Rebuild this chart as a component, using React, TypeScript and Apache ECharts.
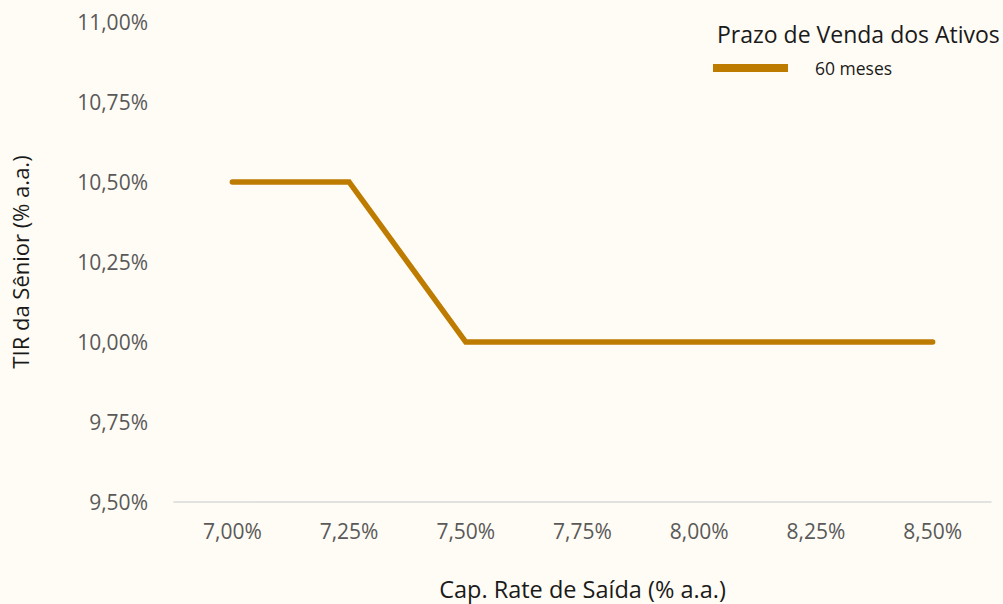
import React, { useEffect, useRef } from "react";
import * as echarts from "echarts";

const categories = ["7,00%", "7,25%", "7,50%", "7,75%", "8,00%", "8,25%", "8,50%"];
const values = [10.5, 10.5, 10.0, 10.0, 10.0, 10.0, 10.0];
const seriesName = "60 meses";
const legendTitle = "Prazo de Venda dos Ativos";
const xName = "Cap. Rate de Saída (% a.a.)";
const yName = "TIR da Sênior (% a.a.)";

const FONT = "'Open Sans', 'Noto Sans', sans-serif";

export default function App() {
  const ref = useRef<HTMLDivElement>(null);
  useEffect(() => {
    if (!ref.current) return;
    const chart = echarts.init(ref.current, undefined, { renderer: "svg" });
    chart.setOption({
      animation: false,
      backgroundColor: "#FFFCF5",
      textStyle: { fontFamily: FONT },
      grid: { left: 174, right: 12, top: 22, bottom: 102, outerBoundsMode: "none", containLabel: false },
      legend: {
        data: [seriesName],
        left: 708,
        top: 54,
        icon: "rect",
        itemWidth: 75,
        itemHeight: 8,
        textStyle: { fontFamily: FONT, fontSize: 17.5, color: "#1a1a1a", padding: [0, 0, 0, 22] },
      },
      graphic: [
        {
          type: "text",
          left: 717,
          top: 22,
          style: { text: legendTitle, font: `23px ${FONT}`, fill: "#1a1a1a" },
        },
      ],
      xAxis: {
        type: "category",
        data: categories,
        boundaryGap: true,
        name: xName,
        nameLocation: "middle",
        nameGap: 75,
        nameTextStyle: { fontFamily: FONT, fontSize: 23.5, color: "#1a1a1a" },
        axisLine: { show: true, lineStyle: { color: "#d9d9d9", width: 1.5 } },
        axisTick: { show: false },
        axisLabel: { fontFamily: FONT, fontSize: 21, color: "#595959", margin: 18 },
        splitLine: { show: false },
      },
      yAxis: {
        type: "value",
        min: 9.5,
        max: 11,
        interval: 0.25,
        name: yName,
        nameLocation: "middle",
        nameGap: 143,
        nameTextStyle: { fontFamily: FONT, fontSize: 22, color: "#1a1a1a" },
        axisLine: { show: false },
        axisTick: { show: false },
        splitLine: { show: false },
        axisLabel: {
          fontFamily: FONT,
          fontSize: 21,
          color: "#595959",
          margin: 26,
          formatter: (v: number) => v.toFixed(2).replace(".", ",") + "%",
        },
      },
      series: [
        {
          name: seriesName,
          type: "line",
          data: values,
          symbol: "none",
          lineStyle: { color: "#BD7B00", width: 5.5, cap: "round", join: "miter" },
          itemStyle: { color: "#BD7B00" },
        },
      ],
    });
    return () => chart.dispose();
  }, []);
  return <div ref={ref} style={{ width: 1003, height: 604, position: "absolute", left: 0, top: 0 }} />;
}
